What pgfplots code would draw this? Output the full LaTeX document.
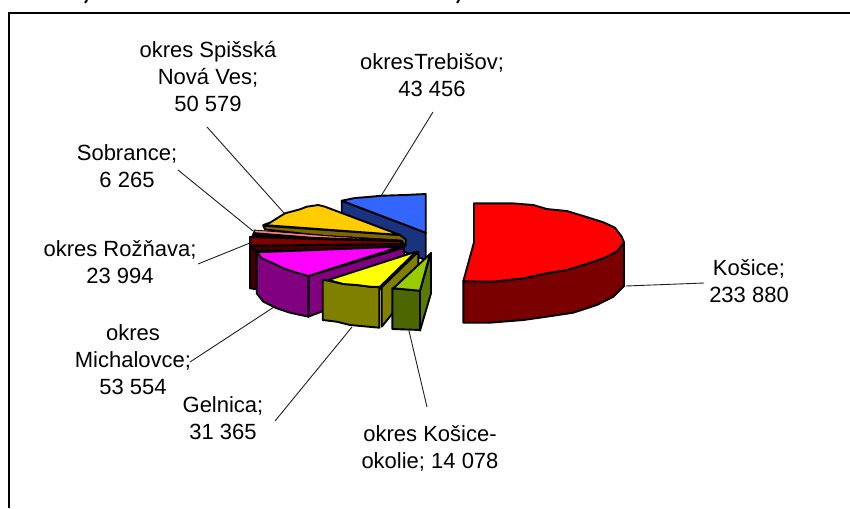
\documentclass[border=0pt]{standalone}
\usepackage{pgfplots}
\pgfplotsset{compat=1.18}
\usepackage{fontspec}
\setmainfont{Liberation Sans}
\definecolor{cBlue}{HTML}{3366FF}\definecolor{cBlueD}{HTML}{1A3380}
\definecolor{cOra}{HTML}{FFCC00}\definecolor{cOraD}{HTML}{806600}
\definecolor{cSal}{HTML}{FF8080}\definecolor{cDR}{HTML}{800000}\definecolor{cDRD}{HTML}{400000}
\definecolor{cMag}{HTML}{FF00FF}\definecolor{cPur}{HTML}{800080}
\definecolor{cYel}{HTML}{FFFF00}\definecolor{cOli}{HTML}{808000}
\definecolor{cGre}{HTML}{99CC00}\definecolor{cGreD}{HTML}{4D6600}\definecolor{cGreE}{HTML}{5A7A00}
\definecolor{cRed}{HTML}{FF0000}\definecolor{cRedD}{HTML}{7A0000}
\definecolor{cLead}{HTML}{202020}
\tikzset{
  slice/.style={draw=black,line width=1.9pt,line join=round,fill=#1},
  leader/.style={draw=cLead,line width=0.9pt},
  lab/.style={align=center,font=\fontsize{22}{27}\selectfont,inner sep=0pt,anchor=center}
}
\begin{document}
\begin{tikzpicture}[x=1pt,y=1pt]
\useasboundingbox (0,0) rectangle (850,508);
\begin{axis}[at={(0,0)},anchor=south west,scale only axis,width=850pt,height=508pt,
  xmin=0,xmax=850,ymin=0,ymax=508,y dir=reverse,hide axis,clip=true]
% frame
\addplot[draw=black,line width=2.6pt] coordinates {(9,508)(9,13)(850,13)};
\addplot[draw=black,line width=2pt] coordinates {(87,0)(85,3)};
\addplot[draw=black,line width=2pt] coordinates {(459,0)(457,3)};
% leaders
\addplot[leader] coordinates {(626,286)(704,283)};
\addplot[leader] coordinates {(381,196)(433,112)};
\addplot[leader] coordinates {(284,213)(207,127)};
\addplot[leader] coordinates {(253,231)(178,170)};
\addplot[leader] coordinates {(250,243)(198,264)};
\addplot[leader] coordinates {(274,307)(190,362)};
\addplot[leader] coordinates {(352,327)(275,421)};
\addplot[leader] coordinates {(409,331)(427,407)};
% Trebisov
\addplot[slice=cBlueD] coordinates {(341.7,200.7)(425.7,232.7)(425.7,260)(341.7,228)} --cycle;
\addplot[slice=cBlue] coordinates {(341.7,200.7)(355,198)(368,197)(381.7,195.7)(405,195)(425.7,194)(425.7,232.7)} --cycle;
% Spisska Nova Ves
\addplot[slice=cOraD] coordinates {(263.3,225.7)(400,235)(405.7,239.3)(405.7,245)(265,229.5)} --cycle;
\addplot[slice=cOra] coordinates {(263.3,225)(270,222.7)(285,213.3)(300,209.3)(306.7,206.7)(318.3,205)(325,206.7)(400,235)} --cycle;
% Sobrance
\addplot[fill=black,draw=black] coordinates {(254,231)(402,240)(406,246)(402,250)(250,240)} --cycle;
\addplot[slice=cSal,line width=0.8pt] coordinates {(254,230)(330,236)(400,240.5)(313,237.3)(255,232.7)} --cycle;
% Roznava
\addplot[slice=cDRD] coordinates {(250,237)(250,288.3)(256.5,289.3)(256.5,250)} --cycle;
\addplot[slice=cDRD] coordinates {(250.7,245.7)(402,244)(402,250)(256,251)} --cycle;
\addplot[slice=cDR] coordinates {(250,237)(330,239.5)(400,241)(402,244)(250.5,245.7)} --cycle;
% Michalovce
\addplot[slice=cPur] coordinates {(308.3,276)(404,247.7)(404,280)(308.3,316.7)} --cycle;
\addplot[slice=cPur] coordinates {(256.7,252.3)(256.7,293.3)(263.3,301.7)(276.7,308.3)(290,312.7)(308.3,316.7)(308.3,276)} --cycle;
\addplot[slice=cMag] coordinates {(256.7,252.3)(400,246.7)(308.3,276)(296.7,272.7)(283.3,268.3)(273.3,263.3)(261.7,258.3)} --cycle;
% Gelnica
\addplot[slice=cOli] coordinates {(381.7,287.3)(418.3,251.7)(418.3,281.7)(381.7,326.7)} --cycle;
\addplot[slice=cOli] coordinates {(322.7,280)(328.3,280.7)(343.3,284)(356.7,285)(370,286.7)(379.3,287.3)(379.3,327.7)(350,325)(336.7,321.7)(322.7,320)} --cycle;
\addplot[slice=cYel] coordinates {(328.3,280)(343.3,284)(356.7,285)(370,286.7)(380,286.7)(416,251.7)} --cycle;
% Kosice-okolie
\addplot[slice=cGreE] coordinates {(420,290.7)(431,252.7)(431,293.3)(420,330.7)} --cycle;
\addplot[slice=cGreD] coordinates {(392.3,288.3)(420,290.7)(420,330)(392.3,329)} --cycle;
\addplot[slice=cGre] coordinates {(393.3,288.3)(430,254)(420,290.7)} --cycle;
% Kosice
\addplot[slice=cRedD] coordinates {(463.3,281.3)(493.3,281.7)(523.3,278.3)(546.7,273.3)(566.7,270)(583.3,265)(603.3,258.3)(616.7,251.7)(624,242.3)(624,286)(613.3,296.7)(596.7,305)(573.3,312.7)(546.7,316.7)(523.3,320)(490,322.7)(463.3,322.7)} --cycle;
\addplot[slice=cRed] coordinates {(474,203.3)(511.7,203.3)(533.3,205)(546.7,209)(566.7,211)(583.3,216)(603.3,222.3)(615,227.7)(621.7,236.7)(624,242.3)(616.7,251.7)(603.3,258.3)(583.3,265)(566.7,270)(546.7,273.3)(523.3,278.3)(493.3,281.7)(463.3,281.3)(474,242.3)} --cycle;
% labels
\node[lab] at (axis cs:208,77) {okres Spišská\\Nová Ves;\\50 579};
\node[lab] at (axis cs:432,75.5) {okres\kern0.02em Trebišov;\\43 456};
\node[lab] at (axis cs:127,166.5) {Sobrance;\\6 265};
\node[lab] at (axis cs:120,262.5) {okres Rožňava;\\23 994};
\node[lab] at (axis cs:133,360) {okres\\Michalovce;\\53 554};
\node[lab] at (axis cs:223,418.5) {Gelnica;\\31 365};
\node[lab] at (axis cs:430,448.5) {okres Košice-\\okolie; 14 078};
\node[lab] at (axis cs:749,281.5) {Košice;\\233 880};
\end{axis}
\end{tikzpicture}
\end{document}
